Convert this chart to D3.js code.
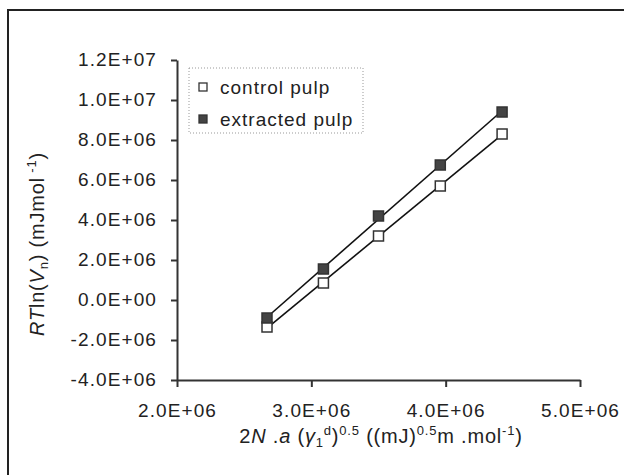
<!DOCTYPE html>
<html>
<head>
<meta charset="utf-8">
<script src="https://cdn.jsdelivr.net/npm/d3@7"></script>
<style>
  body { margin: 0; background: #fff; }
  text { font-family: "Liberation Sans", Arial, sans-serif; fill: #222; }
</style>
</head>
<body>
<div id="chart"></div>
<script>
// Datos
const xValues = [2.67e6, 3.09e6, 3.50e6, 3.96e6, 4.42e6];
const controlValues = [-1.35e6, 0.85e6, 3.2e6, 5.7e6, 8.3e6];
const extractedValues = [-0.9e6, 1.55e6, 4.2e6, 6.75e6, 9.4e6];
const seriesNames = ["control pulp", "extracted pulp"];
const xTicks = [2e6, 3e6, 4e6, 5e6];
const xTickLabels = ["2.0E+06", "3.0E+06", "4.0E+06", "5.0E+06"];
const yTicks = [-4e6, -2e6, 0, 2e6, 4e6, 6e6, 8e6, 1e7, 1.2e7];
const yTickLabels = ["-4.0E+06", "-2.0E+06", "0.0E+00", "2.0E+06", "4.0E+06", "6.0E+06", "8.0E+06", "1.0E+07", "1.2E+07"];

function renderChart() {
    const W = 624, H = 475;
    const svg = d3.select("#chart").append("svg")
        .attr("width", W)
        .attr("height", H);

    // Marco exterior (solo se ven los bordes izquierdo y superior)
    svg.append("rect")
        .attr("x", 8).attr("y", 10)
        .attr("width", 700).attr("height", 500)
        .style("fill", "none")
        .style("stroke", "#222")
        .style("stroke-width", 2);

    // Escalas
    const xScale = d3.scaleLinear().domain([2e6, 5e6]).range([177, 580]);
    const yScale = d3.scaleLinear().domain([-4e6, 1.2e7]).range([380, 60]);

    // Ejes
    const xAxis = svg.append("g")
        .attr("transform", `translate(0,${yScale(-4e6)})`)
        .call(d3.axisBottom(xScale).tickValues(xTicks)
            .tickFormat((d, i) => xTickLabels[i])
            .tickSizeInner(7).tickSizeOuter(0).tickPadding(17));

    const yAxis = svg.append("g")
        .attr("transform", `translate(${xScale(2e6)},0)`)
        .call(d3.axisLeft(yScale).tickValues(yTicks)
            .tickFormat((d, i) => yTickLabels[i])
            .tickSizeInner(6).tickSizeOuter(0).tickPadding(14));

    [xAxis, yAxis].forEach(a => {
        a.select(".domain").style("stroke", "#333").style("stroke-width", 2);
        a.selectAll(".tick line").style("stroke", "#333").style("stroke-width", 2);
        a.selectAll(".tick text")
            .style("font-size", "19px")
            .style("letter-spacing", "1.1px")
            .style("font-family", "'Liberation Sans', Arial, sans-serif")
            .style("fill", "#222");
    });
    yAxis.selectAll(".tick text").attr("dy", "0.3em");

    // Líneas de tendencia (ajuste lineal)
    function fit(xs, ys) {
        const mx = d3.mean(xs), my = d3.mean(ys);
        const b = d3.sum(xs, (x, i) => (x - mx) * (ys[i] - my)) / d3.sum(xs, x => (x - mx) * (x - mx));
        return x => my + b * (x - mx);
    }
    const series = [
        { name: seriesNames[0], values: controlValues, fill: "#fff" },
        { name: seriesNames[1], values: extractedValues, fill: "#444" }
    ];
    const x0 = d3.min(xValues), x1 = d3.max(xValues);
    series.forEach(s => {
        const f = fit(xValues, s.values);
        svg.append("line")
            .attr("x1", xScale(x0)).attr("y1", yScale(f(x0)))
            .attr("x2", xScale(x1)).attr("y2", yScale(f(x1)))
            .style("stroke", "#111")
            .style("stroke-width", 1.6);
    });

    // Marcadores
    const size = 10;
    series.forEach(s => {
        svg.selectAll(null)
            .data(s.values)
            .enter()
            .append("rect")
            .attr("x", (d, i) => xScale(xValues[i]) - size / 2)
            .attr("y", d => yScale(d) - size / 2)
            .attr("width", size).attr("height", size)
            .style("fill", s.fill)
            .style("stroke", "#333")
            .style("stroke-width", 1.5);
    });

    // Leyenda
    const legend = svg.append("g").attr("transform", "translate(189,68)");
    legend.append("rect")
        .attr("width", 174).attr("height", 65)
        .style("fill", "#fff")
        .style("stroke", "#999")
        .style("stroke-dasharray", "1,2");
    series.forEach((s, i) => {
        const row = legend.append("g").attr("transform", `translate(0,${19 + i * 32})`);
        row.append("rect")
            .attr("x", 10).attr("y", -4)
            .attr("width", 8).attr("height", 8)
            .style("fill", s.fill)
            .style("stroke", "#333")
            .style("stroke-width", 1.3);
        row.append("text")
            .attr("x", 31).attr("dy", "0.35em")
            .style("font-size", "19px")
            .style("letter-spacing", "1px")
            .text(s.name);
    });

    // Título eje X
    const xt = svg.append("text")
        .attr("x", 381).attr("y", 443)
        .attr("text-anchor", "middle")
        .style("font-size", "20px")
        .style("letter-spacing", "0.8px");
    xt.append("tspan").text("2");
    xt.append("tspan").style("font-style", "italic").text("N");
    xt.append("tspan").text(" .");
    xt.append("tspan").style("font-style", "italic").text("a");
    xt.append("tspan").text(" (");
    xt.append("tspan").style("font-style", "italic").text("γ");
    xt.append("tspan").attr("dy", 4).style("font-size", "13px").text("1");
    xt.append("tspan").attr("dy", -12).style("font-size", "13px").text("d");
    xt.append("tspan").attr("dy", 8).text(")");
    xt.append("tspan").attr("dy", -8).style("font-size", "13px").text("0.5");
    xt.append("tspan").attr("dy", 8).text(" ((mJ)");
    xt.append("tspan").attr("dy", -8).style("font-size", "13px").text("0.5");
    xt.append("tspan").attr("dy", 8).text("m .mol");
    xt.append("tspan").attr("dy", -8).style("font-size", "13px").text("-1");
    xt.append("tspan").attr("dy", 8).text(")");

    // Título eje Y
    const yt = svg.append("text")
        .attr("transform", "translate(44,244) rotate(-90)")
        .attr("text-anchor", "middle")
        .style("font-size", "20px")
        .style("letter-spacing", "0.8px");
    yt.append("tspan").style("font-style", "italic").text("RT");
    yt.append("tspan").text("ln(");
    yt.append("tspan").style("font-style", "italic").text("V");
    yt.append("tspan").attr("dy", 4).style("font-size", "13px").text("n");
    yt.append("tspan").attr("dy", -4).text(") (mJmol");
    yt.append("tspan").attr("dy", -8).style("font-size", "13px").text(" -1");
    yt.append("tspan").attr("dy", 8).text(")");
}

renderChart();
</script>
</body>
</html>
